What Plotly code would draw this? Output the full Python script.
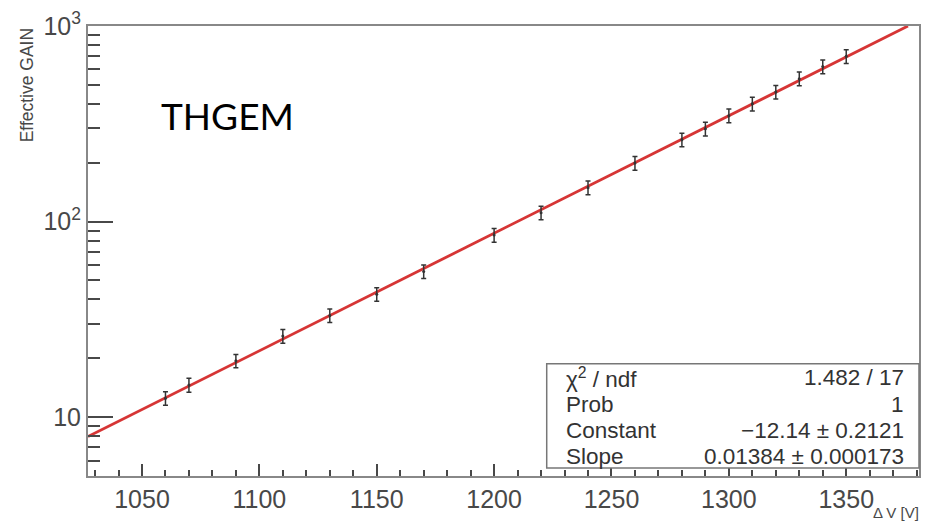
import plotly.graph_objects as go

# ---- data ----
delta_v = [1060, 1070, 1090, 1110, 1130, 1150, 1170, 1200, 1220, 1240,
           1260, 1280, 1290, 1300, 1310, 1320, 1330, 1340, 1350]
gain = [12.5, 14.6, 19.4, 26.0, 33.1, 42.5, 55.6, 85.3, 111, 149,
        199, 262, 298, 348, 400, 460, 538, 620, 700]
gain_err = [1.0, 1.2, 1.5, 2.1, 2.6, 3.4, 4.4, 6.8, 8.9, 12,
            16, 21, 24, 28, 32, 37, 43, 50, 56]

# fitted exponential (straight line on log axis), end points
fit_x = [1027, 1376.3]
fit_y = [7.95, 1000]

stats_labels = ["χ<sup>2</sup> / ndf", "Prob", "Constant", "Slope"]
stats_values = ["1.482 / 17", "1", "−12.14 ± 0.2121", "0.01384 ± 0.000173"]

y_tickvals = [10, 100, 1000]
y_ticktext = ["10", "10<sup>2</sup>", "10<sup>3</sup>"]

FONT = "Liberation Sans, Arial, sans-serif"
GREY = "#484848"

fig = go.Figure()

fig.add_trace(go.Scatter(
    x=fit_x, y=fit_y, mode="lines",
    line=dict(color="#d63535", width=2.8),
    hoverinfo="skip", showlegend=False))

fig.add_trace(go.Scatter(
    x=delta_v, y=gain, mode="markers",
    marker=dict(color="#333333", size=3),
    error_y=dict(type="data", array=gain_err, visible=True,
                 color="#333333", thickness=1.5, width=2.5),
    showlegend=False))

fig.update_layout(
    width=929, height=523,
    margin=dict(l=88, r=8, t=23, b=47),
    paper_bgcolor="white", plot_bgcolor="white",
    font=dict(family=FONT, color=GREY),
)

fig.update_xaxes(
    range=[1027, 1381],
    showline=True, linecolor="#888888", linewidth=2, mirror=True,
    showgrid=False, zeroline=False,
    tickmode="linear", tick0=1050, dtick=50,
    ticks="inside", ticklen=12, tickwidth=1.5, tickcolor=GREY,
    tickfont=dict(size=25, color=GREY, family=FONT),
    minor=dict(ticks="inside", ticklen=6, tickwidth=1.5, tickcolor=GREY,
               dtick=10, tick0=1050, showgrid=False),
)

fig.update_yaxes(
    type="log", range=[0.699, 3.0],
    showline=True, linecolor="#888888", linewidth=2, mirror=True,
    showgrid=False, zeroline=False,
    tickmode="array", tickvals=y_tickvals, ticktext=y_ticktext,
    ticks="inside", ticklen=25, tickwidth=1.5, tickcolor=GREY,
    tickfont=dict(size=25, color=GREY, family=FONT),
    minor=dict(ticks="inside", ticklen=12, tickwidth=1.5, tickcolor=GREY,
               dtick="D1", showgrid=False),
)

annotations = [
    dict(text="Effective GAIN", xref="paper", yref="paper",
         x=-0.073, y=1.0, xanchor="center", yanchor="top", textangle=-90,
         showarrow=False, font=dict(size=17.5, color=GREY, family=FONT)),
    dict(text="Δ V [V]", xref="paper", yref="paper",
         x=1.002, y=-0.08, xanchor="right", yanchor="middle",
         showarrow=False, font=dict(size=15, color=GREY, family=FONT)),
    dict(text="THGEM", xref="paper", yref="paper",
         x=0.086, y=0.801, xanchor="left", yanchor="middle",
         showarrow=False, font=dict(size=37, color="black", family="Lato, sans-serif")),
]

row_y = [0.2185, 0.1589, 0.1015, 0.0442]
for lab, val, yy in zip(stats_labels, stats_values, row_y):
    annotations.append(dict(text=lab, xref="paper", yref="paper",
                            x=0.5726, y=yy, xanchor="left", yanchor="middle",
                            showarrow=False,
                            font=dict(size=22.5, color="#333333", family=FONT)))
    annotations.append(dict(text=val, xref="paper", yref="paper",
                            x=0.9844, y=yy, xanchor="right", yanchor="middle",
                            showarrow=False,
                            font=dict(size=22.5, color="#333333", family=FONT)))

fig.update_layout(annotations=annotations)

fig.add_shape(type="rect", xref="paper", yref="paper",
              x0=0.552, x1=1.0, y0=0.0177, y1=0.2494,
              line=dict(color="#777777", width=1.5), fillcolor="white",
              layer="above")

fig.write_html("out.html")
